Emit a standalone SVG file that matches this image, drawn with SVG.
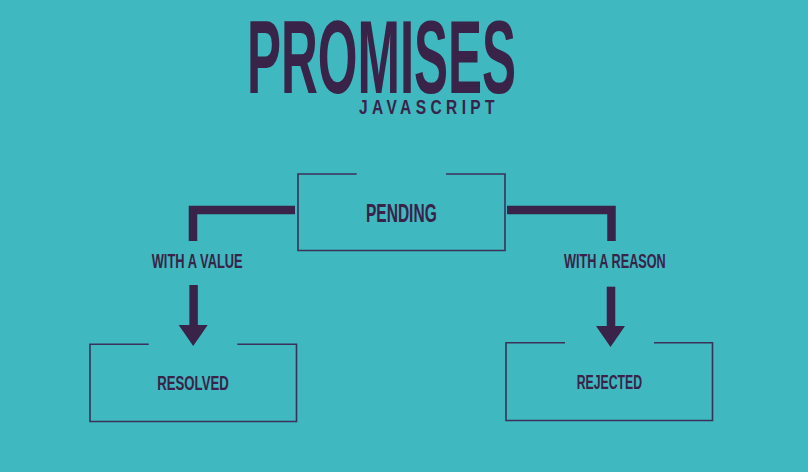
<svg xmlns="http://www.w3.org/2000/svg" width="808" height="472" viewBox="0 0 808 472">
<style>
.bg{fill:#3fb8bf}
.box{fill:none;stroke:#3b3159;stroke-width:1.6}
.conn{fill:none;stroke:#3a2348;stroke-width:8.5;stroke-linejoin:miter}
.head{fill:#3a2348}
text{font-family:"Liberation Sans",Arial,sans-serif;fill:#3a2348;font-weight:bold}
.lbl{font-size:20px}
.node{font-size:21px}
</style>
<rect class="bg" x="0" y="0" width="808" height="472"/>
<g id="title">
<text x="247" y="92.5" font-size="103" textLength="269" lengthAdjust="spacingAndGlyphs">PROMISES</text>
<text x="359" y="114.3" font-size="21" textLength="140" lengthAdjust="spacingAndGlyphs" letter-spacing="6">JAVASCRIPT</text>
</g>
<g id="connectors">
<polyline class="conn" points="295,210 193,210 193,241"/>
<polyline class="conn" points="507,210 611.5,210 611.5,241"/>
<line class="conn" x1="193.6" y1="285" x2="193.6" y2="327"/>
<polygon class="head" points="178.7,325 207.7,325 193.2,346"/>
<line class="conn" x1="611" y1="286.7" x2="611" y2="328"/>
<polygon class="head" points="596,326 625,326 610.5,347"/>
<text class="lbl" x="151.7" y="268" textLength="91" lengthAdjust="spacingAndGlyphs">WITH A VALUE</text>
<text class="lbl" x="564" y="268" textLength="101.7" lengthAdjust="spacingAndGlyphs">WITH A REASON</text>
</g>
<g id="pending">
<polyline class="box" points="356.7,174 298,174 298,250.5 505,250.5 505,174 446,174"/>
<text x="366" y="221.7" font-size="25" textLength="70.7" lengthAdjust="spacingAndGlyphs">PENDING</text>
</g>
<g id="resolved">
<polyline class="box" points="148.7,344.3 90,344.3 90,421.5 296.5,421.5 296.5,344.3 237.3,344.3"/>
<text class="node" x="157.3" y="390" textLength="71.4" lengthAdjust="spacingAndGlyphs">RESOLVED</text>
</g>
<g id="rejected">
<polyline class="box" points="565,342.7 506,342.7 506,420.5 712.5,420.5 712.5,342.7 654,342.7"/>
<text class="node" x="576.7" y="389.3" textLength="65.3" lengthAdjust="spacingAndGlyphs">REJECTED</text>
</g>
</svg>
